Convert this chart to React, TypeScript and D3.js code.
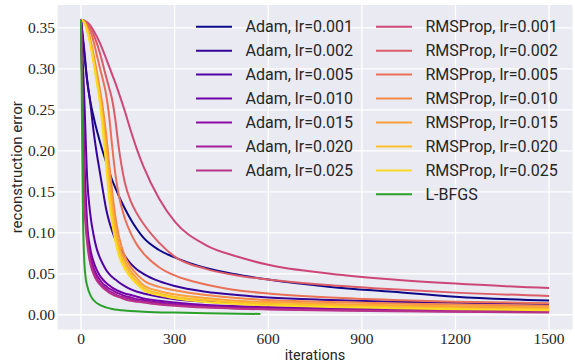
import { useEffect, useRef } from "react";
import * as d3 from "d3";

const iterations = [0, 10, 20, 30, 40, 50, 60, 70, 80, 90, 100, 110, 120, 140, 160, 180, 200, 250, 300, 400, 500, 600, 800, 1000, 1200, 1500];

const adamLabels = ["Adam, lr=0.001", "Adam, lr=0.002", "Adam, lr=0.005", "Adam, lr=0.010", "Adam, lr=0.015", "Adam, lr=0.020", "Adam, lr=0.025"];
const rmsLabels = ["RMSProp, lr=0.001", "RMSProp, lr=0.002", "RMSProp, lr=0.005", "RMSProp, lr=0.010", "RMSProp, lr=0.015", "RMSProp, lr=0.020", "RMSProp, lr=0.025"];

const adam001 = [0.36, 0.32, 0.285, 0.26, 0.242, 0.226, 0.212, 0.199, 0.187, 0.175, 0.164, 0.155, 0.146, 0.13, 0.116, 0.104, 0.094, 0.079, 0.07, 0.057, 0.049, 0.043, 0.034, 0.028, 0.022, 0.0175];
const adam002 = [0.36, 0.325, 0.285, 0.258, 0.225, 0.198, 0.175, 0.152, 0.13, 0.114, 0.102, 0.092, 0.084, 0.072, 0.062, 0.055, 0.05, 0.041, 0.035, 0.028, 0.024, 0.021, 0.018, 0.016, 0.0145, 0.013];
const adam005 = [0.36, 0.27, 0.165, 0.122, 0.098, 0.081, 0.07, 0.062, 0.055, 0.05, 0.046, 0.043, 0.04, 0.035, 0.031, 0.028, 0.026, 0.022, 0.019, 0.016, 0.014, 0.0125, 0.011, 0.0096, 0.0088, 0.008];
const adam010 = [0.36, 0.2, 0.11, 0.08, 0.065, 0.055, 0.048, 0.043, 0.039, 0.036, 0.033, 0.031, 0.029, 0.026, 0.024, 0.022, 0.02, 0.017, 0.015, 0.012, 0.0105, 0.0095, 0.008, 0.007, 0.006, 0.005];
const adam015 = [0.36, 0.17, 0.1, 0.072, 0.058, 0.049, 0.043, 0.038, 0.035, 0.032, 0.03, 0.028, 0.026, 0.023, 0.021, 0.019, 0.018, 0.015, 0.013, 0.0105, 0.009, 0.008, 0.0065, 0.0055, 0.0048, 0.004];
const adam020 = [0.36, 0.155, 0.092, 0.066, 0.053, 0.045, 0.039, 0.035, 0.032, 0.029, 0.027, 0.025, 0.023, 0.021, 0.019, 0.017, 0.016, 0.0135, 0.012, 0.0095, 0.008, 0.007, 0.0057, 0.0048, 0.0041, 0.0033];
const adam025 = [0.36, 0.145, 0.087, 0.062, 0.05, 0.042, 0.037, 0.033, 0.03, 0.027, 0.025, 0.023, 0.022, 0.019, 0.017, 0.016, 0.015, 0.0125, 0.011, 0.0088, 0.0074, 0.0065, 0.0052, 0.0043, 0.0036, 0.0028];

const rms001 = [0.36, 0.359, 0.357, 0.353, 0.347, 0.34, 0.332, 0.323, 0.313, 0.303, 0.293, 0.283, 0.272, 0.249, 0.224, 0.201, 0.181, 0.142, 0.114, 0.085, 0.071, 0.061, 0.05, 0.043, 0.038, 0.0325];
const rms002 = [0.36, 0.359, 0.356, 0.35, 0.342, 0.332, 0.32, 0.306, 0.291, 0.277, 0.262, 0.238, 0.207, 0.162, 0.138, 0.123, 0.111, 0.088, 0.071, 0.056, 0.048, 0.043, 0.036, 0.031, 0.027, 0.023];
const rms005 = [0.36, 0.358, 0.354, 0.346, 0.334, 0.318, 0.302, 0.287, 0.27, 0.243, 0.205, 0.172, 0.148, 0.118, 0.099, 0.085, 0.075, 0.058, 0.048, 0.037, 0.03, 0.026, 0.021, 0.018, 0.016, 0.014];
const rms010 = [0.36, 0.357, 0.35, 0.336, 0.318, 0.298, 0.276, 0.252, 0.222, 0.185, 0.15, 0.12, 0.098, 0.072, 0.058, 0.049, 0.042, 0.034, 0.03, 0.024, 0.0205, 0.018, 0.0155, 0.0138, 0.0124, 0.011];
const rms015 = [0.36, 0.357, 0.348, 0.333, 0.314, 0.292, 0.27, 0.243, 0.21, 0.172, 0.137, 0.108, 0.088, 0.066, 0.053, 0.044, 0.036, 0.029, 0.025, 0.0205, 0.017, 0.0155, 0.013, 0.0115, 0.0103, 0.009];
const rms020 = [0.36, 0.357, 0.347, 0.331, 0.311, 0.288, 0.265, 0.235, 0.198, 0.158, 0.124, 0.099, 0.081, 0.061, 0.049, 0.04, 0.033, 0.026, 0.022, 0.018, 0.015, 0.0135, 0.0113, 0.0097, 0.0083, 0.007];
const rms025 = [0.36, 0.357, 0.346, 0.329, 0.308, 0.285, 0.26, 0.225, 0.185, 0.142, 0.112, 0.09, 0.074, 0.056, 0.045, 0.037, 0.03, 0.024, 0.02, 0.0155, 0.013, 0.0115, 0.0095, 0.008, 0.0067, 0.0055];

const lbfgsIterations = [0, 3, 6, 10, 15, 20, 30, 40, 60, 80, 100, 150, 200, 300, 400, 575];
const lbfgs = [0.36, 0.24, 0.13, 0.07, 0.045, 0.035, 0.024, 0.018, 0.012, 0.009, 0.007, 0.0048, 0.0038, 0.0026, 0.0018, 0.001];

const adamSeries = [adam001, adam002, adam005, adam010, adam015, adam020, adam025];
const rmsSeries = [rms001, rms002, rms005, rms010, rms015, rms020, rms025];

const xTicks = [0, 300, 600, 900, 1200, 1500];
const yTicks = [0, 0.05, 0.1, 0.15, 0.2, 0.25, 0.3, 0.35];

const width = 575;
const height = 364;
const margin = { top: 5, right: 2.5, bottom: 34.5, left: 57.6 };
const sans = "Roboto, 'DejaVu Sans', sans-serif";
const serif = "'Liberation Serif', 'DejaVu Serif', serif";

const App = () => {
  const svgRef = useRef<SVGSVGElement | null>(null);

  useEffect(() => {
    const svg = d3.select(svgRef.current);
    svg.selectAll("*").remove();

    const x = d3.scaleLinear().domain([-75, 1575]).range([margin.left, width - margin.right]);
    const y = d3.scaleLinear().domain([-0.018, 0.378]).range([height - margin.bottom, margin.top]);

    const colors = d3.range(14).map((i) => d3.interpolatePlasma(i / 14));

    svg
      .append("rect")
      .attr("x", margin.left)
      .attr("y", margin.top)
      .attr("width", width - margin.left - margin.right)
      .attr("height", height - margin.top - margin.bottom)
      .attr("fill", "#eaeaf2");

    const grid = svg.append("g").attr("stroke", "#fff").attr("stroke-width", 1.3);
    grid
      .selectAll(".gx")
      .data(xTicks)
      .join("line")
      .attr("x1", (d) => x(d))
      .attr("x2", (d) => x(d))
      .attr("y1", margin.top)
      .attr("y2", height - margin.bottom);
    grid
      .selectAll(".gy")
      .data(yTicks)
      .join("line")
      .attr("y1", (d) => y(d))
      .attr("y2", (d) => y(d))
      .attr("x1", margin.left)
      .attr("x2", width - margin.right);

    const line = d3
      .line<[number, number]>()
      .x((d) => x(d[0]))
      .y((d) => y(d[1]))
      .curve(d3.curveMonotoneX);

    const plot = svg.append("g").attr("fill", "none").attr("stroke-width", 2).attr("stroke-linejoin", "round");

    const all = [...adamSeries, ...rmsSeries];
    all.forEach((vals, i) => {
      plot
        .append("path")
        .attr("d", line(iterations.map((it, j) => [it, vals[j]] as [number, number])))
        .attr("stroke", colors[i]);
    });
    plot
      .append("path")
      .attr("d", line(lbfgsIterations.map((it, j) => [it, lbfgs[j]] as [number, number])))
      .attr("stroke", "#2ca02c");

    // ticks
    svg
      .append("g")
      .selectAll("text")
      .data(xTicks)
      .join("text")
      .attr("x", (d) => x(d))
      .attr("y", 344)
      .attr("text-anchor", "middle")
      .attr("font-family", serif)
      .attr("font-size", 15.5)
      .attr("fill", "#262626")
      .text((d) => d);

    svg
      .append("g")
      .selectAll("text")
      .data(yTicks)
      .join("text")
      .attr("x", 55)
      .attr("y", (d) => y(d) + 5.5)
      .attr("text-anchor", "end")
      .attr("font-family", serif)
      .attr("font-size", 15.5)
      .attr("fill", "#262626")
      .text((d) => d3.format(".2f")(d));

    svg
      .append("text")
      .attr("x", (margin.left + width - margin.right) / 2)
      .attr("y", 360)
      .attr("text-anchor", "middle")
      .attr("font-family", sans)
      .attr("font-size", 14.5)
      .attr("fill", "#262626")
      .text("iterations");

    svg
      .append("text")
      .attr("transform", `translate(22,${(margin.top + height - margin.bottom) / 2}) rotate(-90)`)
      .attr("text-anchor", "middle")
      .attr("font-family", sans)
      .attr("font-size", 15)
      .attr("fill", "#262626")
      .text("reconstruction error");

    // legend
    const legendItems = [
      ...adamLabels.map((label, i) => ({ label, color: colors[i], col: 0, row: i })),
      ...rmsLabels.map((label, i) => ({ label, color: colors[i + 7], col: 1, row: i })),
      { label: "L-BFGS", color: "#2ca02c", col: 1, row: 7 },
    ];
    const colX = [196, 376];
    const legend = svg.append("g");
    const item = legend
      .selectAll("g")
      .data(legendItems)
      .join("g")
      .attr("transform", (d) => `translate(${colX[d.col]},${26.7 + d.row * 23.95})`);
    item
      .append("line")
      .attr("x1", 0)
      .attr("x2", 36)
      .attr("stroke", (d) => d.color)
      .attr("stroke-width", 2);
    item
      .append("text")
      .attr("x", 49.5)
      .attr("y", 5.5)
      .attr("font-family", sans)
      .attr("font-size", 16)
      .attr("fill", "#262626")
      .text((d) => d.label);
  }, []);

  return (
    <div style={{ position: "absolute", left: 0, top: 0 }}>
      <svg ref={svgRef} width={width} height={height} style={{ display: "block", background: "#fff" }}></svg>
    </div>
  );
};

export default App;
